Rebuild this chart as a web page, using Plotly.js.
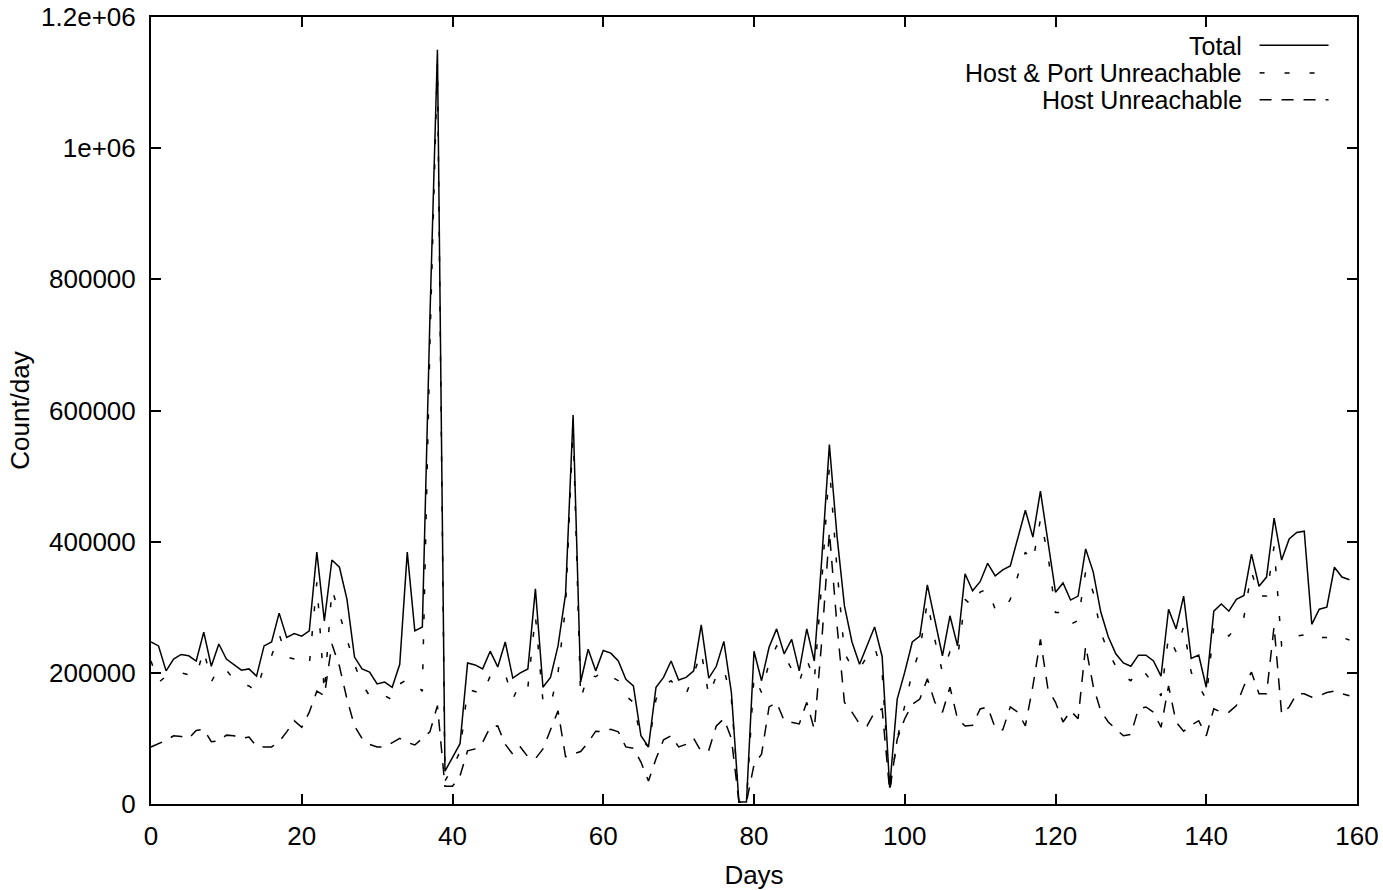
<!DOCTYPE html>
<html>
<head>
<meta charset="utf-8">
<script src="https://cdn.plot.ly/plotly-3.0.1.min.js"></script>
<style>html,body{margin:0;padding:0;background:#fff;}#chart{width:1383px;height:890px;}</style>
</head>
<body>
<div id="chart"></div>
<script>
const seriesNames = ["Total", "Host & Port Unreachable", "Host Unreachable"];

const total = [
247000,241000,203000,221000,228000,226000,218000,262000,210000,244000,
221000,212000,204000,206000,195000,241000,247000,291000,254000,260000,
256000,264000,384000,279000,372000,361000,312000,224000,206000,201000,
183000,186000,178000,213000,384000,264000,270000,740000,1150000,50000,
72000,92000,215000,212000,206000,233000,209000,247000,192000,200000,
206000,328000,178000,193000,241000,320000,593000,186000,236000,203000,
234000,230000,218000,190000,180000,104000,87000,178000,193000,218000,
189000,193000,203000,273000,192000,210000,248000,170000,3000,3000,
233000,188000,239000,267000,229000,251000,203000,267000,218000,375000,
548000,410000,302000,247000,213000,241000,270000,225000,25000,160000,
201000,247000,256000,334000,280000,226000,287000,241000,351000,325000,
339000,367000,348000,357000,363000,404000,448000,407000,477000,400000,
323000,337000,311000,317000,389000,354000,293000,255000,229000,215000,
210000,227000,227000,218000,195000,297000,267000,317000,222000,227000,
178000,294000,305000,294000,312000,318000,381000,332000,346000,436000,
372000,404000,414000,416000,274000,297000,300000,361000,346000,342000
];

const hostPort = [
218000,185000,195000,198000,200000,197000,195000,235000,186000,208000,
204000,190000,183000,180000,172000,210000,226000,259000,224000,221000,
216000,212000,338000,170000,328000,290000,251000,213000,183000,165000,
160000,165000,159000,183000,190000,185000,172000,700000,1130000,35000,
55000,80000,175000,172000,168000,195000,193000,198000,160000,185000,
178000,287000,157000,150000,200000,300000,575000,160000,198000,194000,
203000,195000,188000,165000,155000,99000,87000,160000,180000,188000,
175000,168000,198000,232000,165000,195000,206000,160000,3000,3000,
195000,170000,215000,241000,226000,206000,186000,221000,188000,340000,
515000,360000,230000,209000,206000,225000,239000,201000,18000,99000,
150000,201000,235000,308000,250000,201000,232000,221000,312000,302000,
323000,328000,297000,294000,312000,348000,384000,370000,434000,380000,
292000,292000,274000,280000,355000,323000,262000,232000,210000,195000,
188000,206000,198000,183000,165000,256000,232000,271000,201000,180000,
160000,270000,271000,256000,270000,285000,354000,317000,317000,393000,
241000,247000,256000,258000,251000,254000,254000,259000,254000,250000
];

const hostOnly = [
87000,92000,97000,104000,103000,100000,112000,114000,95000,96000,
105000,104000,100000,102000,88000,87000,87000,95000,110000,127000,
117000,140000,172000,165000,244000,210000,160000,119000,100000,91000,
87000,87000,94000,100000,94000,90000,100000,110000,150000,27000,
27000,43000,81000,84000,94000,117000,119000,91000,76000,87000,
72000,69000,84000,114000,142000,72000,76000,80000,94000,111000,
110000,114000,110000,87000,85000,64000,35000,69000,98000,104000,
87000,91000,100000,80000,82000,119000,130000,100000,3000,3000,
60000,76000,148000,155000,127000,124000,122000,155000,114000,250000,
415000,274000,155000,140000,122000,119000,140000,145000,20000,99000,
130000,152000,160000,191000,155000,140000,178000,130000,119000,120000,
145000,148000,116000,113000,148000,140000,119000,180000,251000,175000,
155000,125000,142000,130000,241000,180000,142000,125000,114000,104000,
106000,145000,148000,140000,117000,180000,125000,111000,120000,127000,
104000,145000,140000,140000,150000,180000,201000,168000,168000,271000,
137000,148000,168000,168000,163000,165000,170000,172000,168000,165000
];

const days = total.map((_, i) => i);

const xTickVals = [0, 20, 40, 60, 80, 100, 120, 140, 160];
const yTickVals = [0, 200000, 400000, 600000, 800000, 1000000, 1200000];
const yTickText = ["0", "200000", "400000", "600000", "800000", "1e+06", "1.2e+06"];

const FONT = "Liberation Sans, Arial, Helvetica, sans-serif";
const FS = 26;
const LFS = 25;
const dashes = ["solid", "5px,20px", "12px,10px"];

const traces = [total, hostPort, hostOnly].map((vals, k) => ({
  x: days, y: vals, type: "scatter", mode: "lines", name: seriesNames[k],
  line: {color: "#000", width: 1.5, dash: dashes[k]}, showlegend: false
}));

// Legend drawn gnuplot-style: right-aligned text with the key sample on its right
const annotations = [];
const shapes = [];
const legendY = [0.964, 0.929, 0.895];
seriesNames.forEach((name, k) => {
  annotations.push({
    xref: "paper", yref: "paper", x: 0.9058, y: legendY[k],
    xanchor: "right", yanchor: "middle", showarrow: false, text: name,
    height: 25, borderpad: 0, valign: "middle",
    font: {family: FONT, size: LFS, color: "#000"}
  });
  shapes.push({
    type: "line", xref: "paper", yref: "paper",
    x0: 0.9192, x1: 0.9764, y0: legendY[k], y1: legendY[k],
    line: {color: "#000", width: 1.5, dash: dashes[k]}
  });
});

const layout = {
  width: 1383, height: 890,
  margin: {l: 151, r: 26, t: 17, b: 86},
  paper_bgcolor: "#fff", plot_bgcolor: "#fff",
  showlegend: false,
  font: {family: FONT, size: FS, color: "#000"},
  xaxis: {
    range: [0, 160], tickvals: xTickVals, ticks: "inside", ticklen: 10,
    tickwidth: 2, tickcolor: "#000", showline: true, linecolor: "#000",
    linewidth: 2, mirror: "ticks", showgrid: false, zeroline: false,
    ticklabelstandoff: 8,
    tickfont: {family: FONT, size: FS, color: "#000"},
    title: {text: "Days", font: {family: FONT, size: FS, color: "#000"}, standoff: 16}
  },
  yaxis: {
    range: [0, 1200000], tickvals: yTickVals, ticktext: yTickText,
    ticks: "inside", ticklen: 10, tickwidth: 2, tickcolor: "#000",
    showline: true, linecolor: "#000", linewidth: 2, mirror: "ticks",
    showgrid: false, zeroline: false,
    ticklabelstandoff: 8,
    tickfont: {family: FONT, size: FS, color: "#000"},
    title: {text: "Count/day", font: {family: FONT, size: FS, color: "#000"}, standoff: 4}
  },
  annotations: annotations,
  shapes: shapes
};

Plotly.newPlot("chart", traces, layout, {displayModeBar: false, staticPlot: true});
</script>
</body>
</html>
